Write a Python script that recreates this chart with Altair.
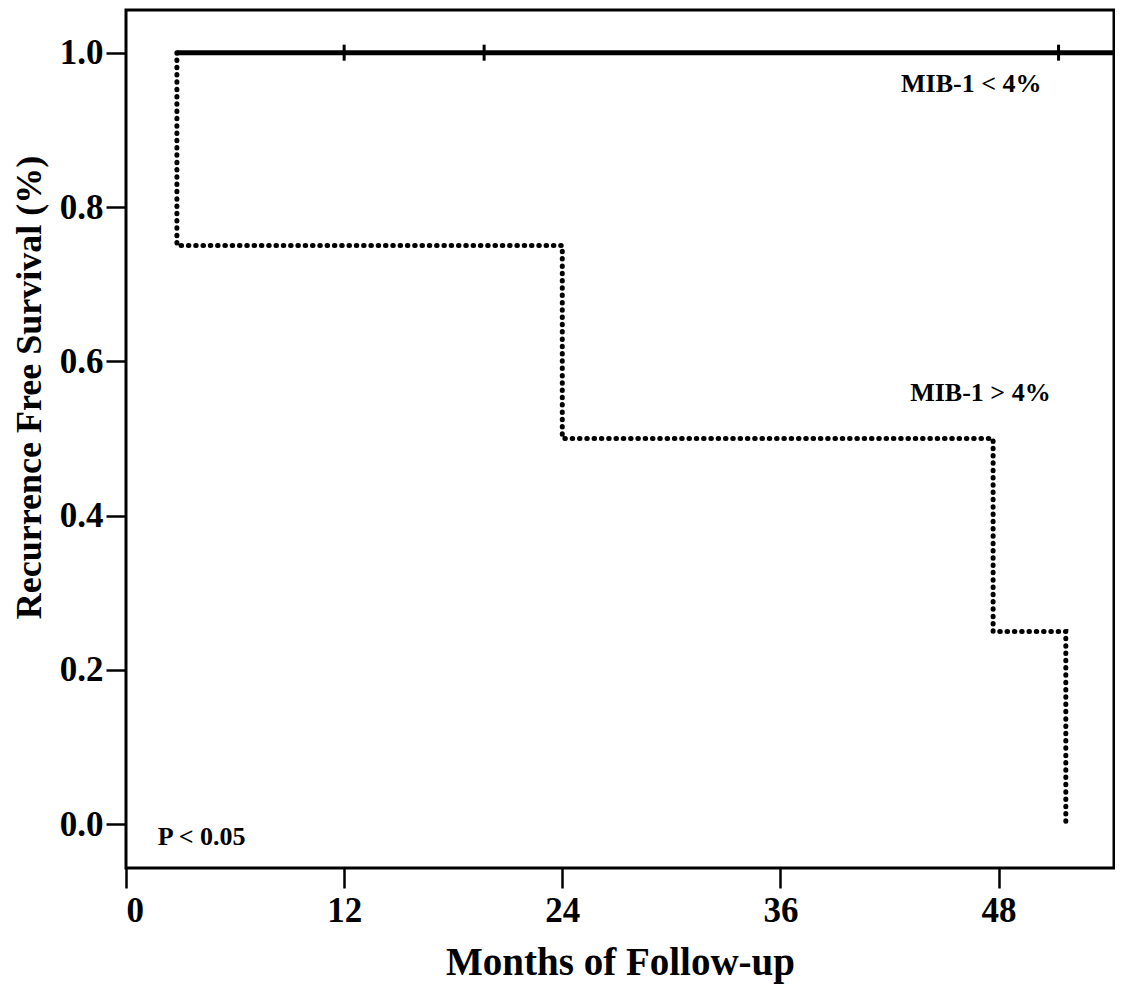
import altair as alt
import pandas as pd

# ---- data ----
times_low = [2.8, 54.35]          # MIB-1 < 4% (solid)
surv_low = [1.0, 1.0]
censor_times = [12.0, 19.7, 51.3]  # censor marks on the solid curve
censor_surv = [1.0, 1.0, 1.0]
times_high = [2.8, 2.8, 24.0, 47.7, 51.7]   # MIB-1 > 4% (dotted)
surv_high = [1.0, 0.75, 0.50, 0.25, 0.0]

x_ticks = [0, 12, 24, 36, 48]
y_ticks = [0.0, 0.2, 0.4, 0.6, 0.8, 1.0]
x_domain = [0, 54.35]
y_domain = [-0.0566, 1.0553]

ann_text = ["MIB-1 < 4%", "MIB-1 > 4%"]
ann_x = [46.5, 47.0]
ann_y = [0.959, 0.5586]
p_text = ["P < 0.05"]
p_x = [1.75]
p_y = [-0.0167]

FONT = "Liberation Serif"

low_df = pd.DataFrame({"t": times_low, "s": surv_low})
cens_df = pd.DataFrame({"t": censor_times, "s": censor_surv})
high_df = pd.DataFrame({"t": times_high, "s": surv_high, "i": list(range(len(times_high)))})
ann_df = pd.DataFrame({"t": ann_x, "s": ann_y, "label": ann_text})
p_df = pd.DataFrame({"t": p_x, "s": p_y, "label": p_text})

xscale = alt.Scale(domain=x_domain, nice=False, zero=False)
yscale = alt.Scale(domain=y_domain, nice=False, zero=False)

xaxis = alt.Axis(
    title="Months of Follow-up", values=x_ticks, format="d",
    titleFontSize=39, titleY=106, titleBaseline="alphabetic",
    labelFontSize=35, labelPadding=5,
)
yaxis = alt.Axis(
    title="Recurrence Free Survival (%)", values=y_ticks, format=".1f",
    titleFontSize=36, titleX=-97, titleY=377, titleAngle=270,
    titleBaseline="middle", titleAlign="center",
    labelFontSize=35, labelPadding=3,
)

solid = alt.Chart(low_df).mark_line(color="black", strokeWidth=5, clip=True).encode(
    x=alt.X("t:Q", scale=xscale, axis=xaxis),
    y=alt.Y("s:Q", scale=yscale, axis=yaxis),
)

cens = alt.Chart(cens_df).mark_tick(
    color="black", opacity=1, orient="vertical", size=16, thickness=3
).encode(
    x=alt.X("t:Q", scale=xscale),
    y=alt.Y("s:Q", scale=yscale),
)

dotted = alt.Chart(high_df).mark_line(
    color="black", strokeWidth=5, strokeDash=[0.5, 6.8], strokeCap="round",
    interpolate="step-after",
).encode(
    x=alt.X("t:Q", scale=xscale),
    y=alt.Y("s:Q", scale=yscale),
    order=alt.Order("i:Q"),
)

ann = alt.Chart(ann_df).mark_text(
    font=FONT, fontWeight="bold", fontSize=26, color="black", align="center", baseline="middle"
).encode(
    x=alt.X("t:Q", scale=xscale),
    y=alt.Y("s:Q", scale=yscale),
    text="label:N",
)

ptxt = alt.Chart(p_df).mark_text(
    font=FONT, fontWeight="bold", fontSize=26, color="black", align="left", baseline="middle"
).encode(
    x=alt.X("t:Q", scale=xscale),
    y=alt.Y("s:Q", scale=yscale),
    text="label:N",
)

chart = alt.layer(solid, dotted, cens, ann, ptxt).properties(
    width=988, height=858,
    autosize=alt.AutoSizeParams(type="none"),
    padding={"left": 118, "top": 2, "right": 1, "bottom": 120},
    background="white",
).configure_view(
    stroke="black", strokeWidth=3,
).configure_axis(
    grid=False, domain=False,
    tickColor="black", tickWidth=2.5, tickSize=20,
    labelFont=FONT, labelFontWeight="bold", labelColor="black",
    titleFont=FONT, titleFontWeight="bold", titleColor="black",
)

chart.save("out.html", embed_options={"renderer": "svg", "actions": False})
